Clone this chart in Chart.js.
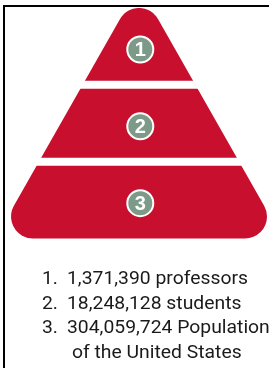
<!DOCTYPE html>
<html><head><meta charset="utf-8">
<script src="https://cdn.jsdelivr.net/npm/chart.js@4.4.1/dist/chart.umd.min.js"></script>
<style>
html,body{margin:0;padding:0;background:#fff;overflow:hidden;}
#wrap{position:relative;width:269px;height:368px;overflow:hidden;}
#frame{position:absolute;left:3px;top:5px;width:320px;height:420px;border-left:2px solid #000;border-top:2px solid #000;}
canvas{position:absolute;left:0;top:0;}
</style></head><body>
<div id="wrap"><div id="frame"></div><canvas id="c" width="269" height="368"></canvas></div>
<script>
// ---- data ----
const levels = [1, 2, 3];                                   // tiers, top to bottom
const counts = [1371390, 18248128, 304059724];
const groups = ['professors', 'students', 'Population'];
const groupTail = ['', '', 'of the United States'];

// ---- layout / style ----
const W = 269, H = 368;
const PAD = {left: 11, right: 2, top: 8, bottom: 129.5};
const R = 22;                          // rounded corner radius, px
const RED = '#c8102e';
const BADGE = '#7d9987';
const n = levels.length;
const pxX = (W - PAD.left - PAD.right) / 2;
const pxY = (H - PAD.top - PAD.bottom) / n;
const rx = R / pxX, ry = R / pxY;

// pyramid outline (inset so that a round-joined stroke of 2R gives rounded corners)
const pyramid = [{x: 0, y: n - ry}, {x: -(1 - rx), y: ry}, {x: 1 - rx, y: ry}, {x: 0, y: n - ry}];
const gapDatasets = [];
for (let k = 1; k < n; k++) {
  gapDatasets.push({
    type: 'scatter', data: [{x: -1, y: k}, {x: 1, y: k}], showLine: true,
    borderColor: '#ffffff', borderWidth: 8, pointRadius: 0, fill: false, order: 0, clip: false
  });
}
const badgeData = levels.map(l => ({x: 0.01, y: n - l + 0.46}));

const badgeText = {
  id: 'badgeText',
  afterDatasetsDraw(chart) {
    const idx = chart.data.datasets.findIndex(d => d.label === 'badges');
    const meta = chart.getDatasetMeta(idx);
    const ctx = chart.ctx;
    ctx.save();
    ctx.fillStyle = '#ffffff';
    ctx.font = 'bold 20px "Liberation Sans", Arial, sans-serif';
    ctx.textAlign = 'center';
    ctx.textBaseline = 'middle';
    meta.data.forEach((pt, i) => ctx.fillText(String(levels[i]), pt.x, pt.y + 1));
    ctx.restore();
  }
};

const captions = {
  id: 'captions',
  afterDraw(chart) {
    const ctx = chart.ctx;
    ctx.save();
    ctx.fillStyle = '#1a1a1a';
    ctx.font = '18px Roboto, "Liberation Sans", sans-serif';
    ctx.textBaseline = 'alphabetic';
    ctx.textAlign = 'left';
    const base = [284, 308.5, 333];
    const lines = levels.map((l, i) => counts[i].toLocaleString('en-US') + ' ' + groups[i]);
    const sx = 181 / ctx.measureText(lines[0]).width;
    const put = (txt, x, y) => { ctx.save(); ctx.translate(x, y); ctx.scale(sx, 1); ctx.fillText(txt, 0, 0); ctx.restore(); };
    levels.forEach((l, i) => {
      put(l + '.', 42, base[i]);
      put(lines[i], 67, base[i]);
    });
    let extra = 0;
    groupTail.forEach((t) => { if (t) { put(t, 72, 358 + extra); extra += 24; } });
    ctx.restore();
  }
};

new Chart(document.getElementById('c'), {
  type: 'scatter',
  data: {
    datasets: [
      ...gapDatasets,
      {label: 'badges', data: badgeData, pointRadius: 13, pointBackgroundColor: BADGE,
       pointBorderColor: '#ffffff', pointBorderWidth: 2, showLine: false, order: -1, clip: false},
      {label: 'pyramid', data: pyramid, showLine: true, fill: 'shape', backgroundColor: RED,
       borderColor: RED, borderWidth: 2 * R, borderJoinStyle: 'round', borderCapStyle: 'round',
       pointRadius: 0, order: 1, clip: false}
    ]
  },
  options: {
    responsive: false, animation: false, devicePixelRatio: 1, events: [],
    layout: {padding: PAD, autoPadding: false},
    plugins: {legend: {display: false}, tooltip: {enabled: false}, title: {display: false}},
    scales: {
      x: {type: 'linear', min: -1, max: 1, display: false},
      y: {type: 'linear', min: 0, max: n, display: false}
    }
  },
  plugins: [badgeText, captions]
});
</script>
</body></html>
